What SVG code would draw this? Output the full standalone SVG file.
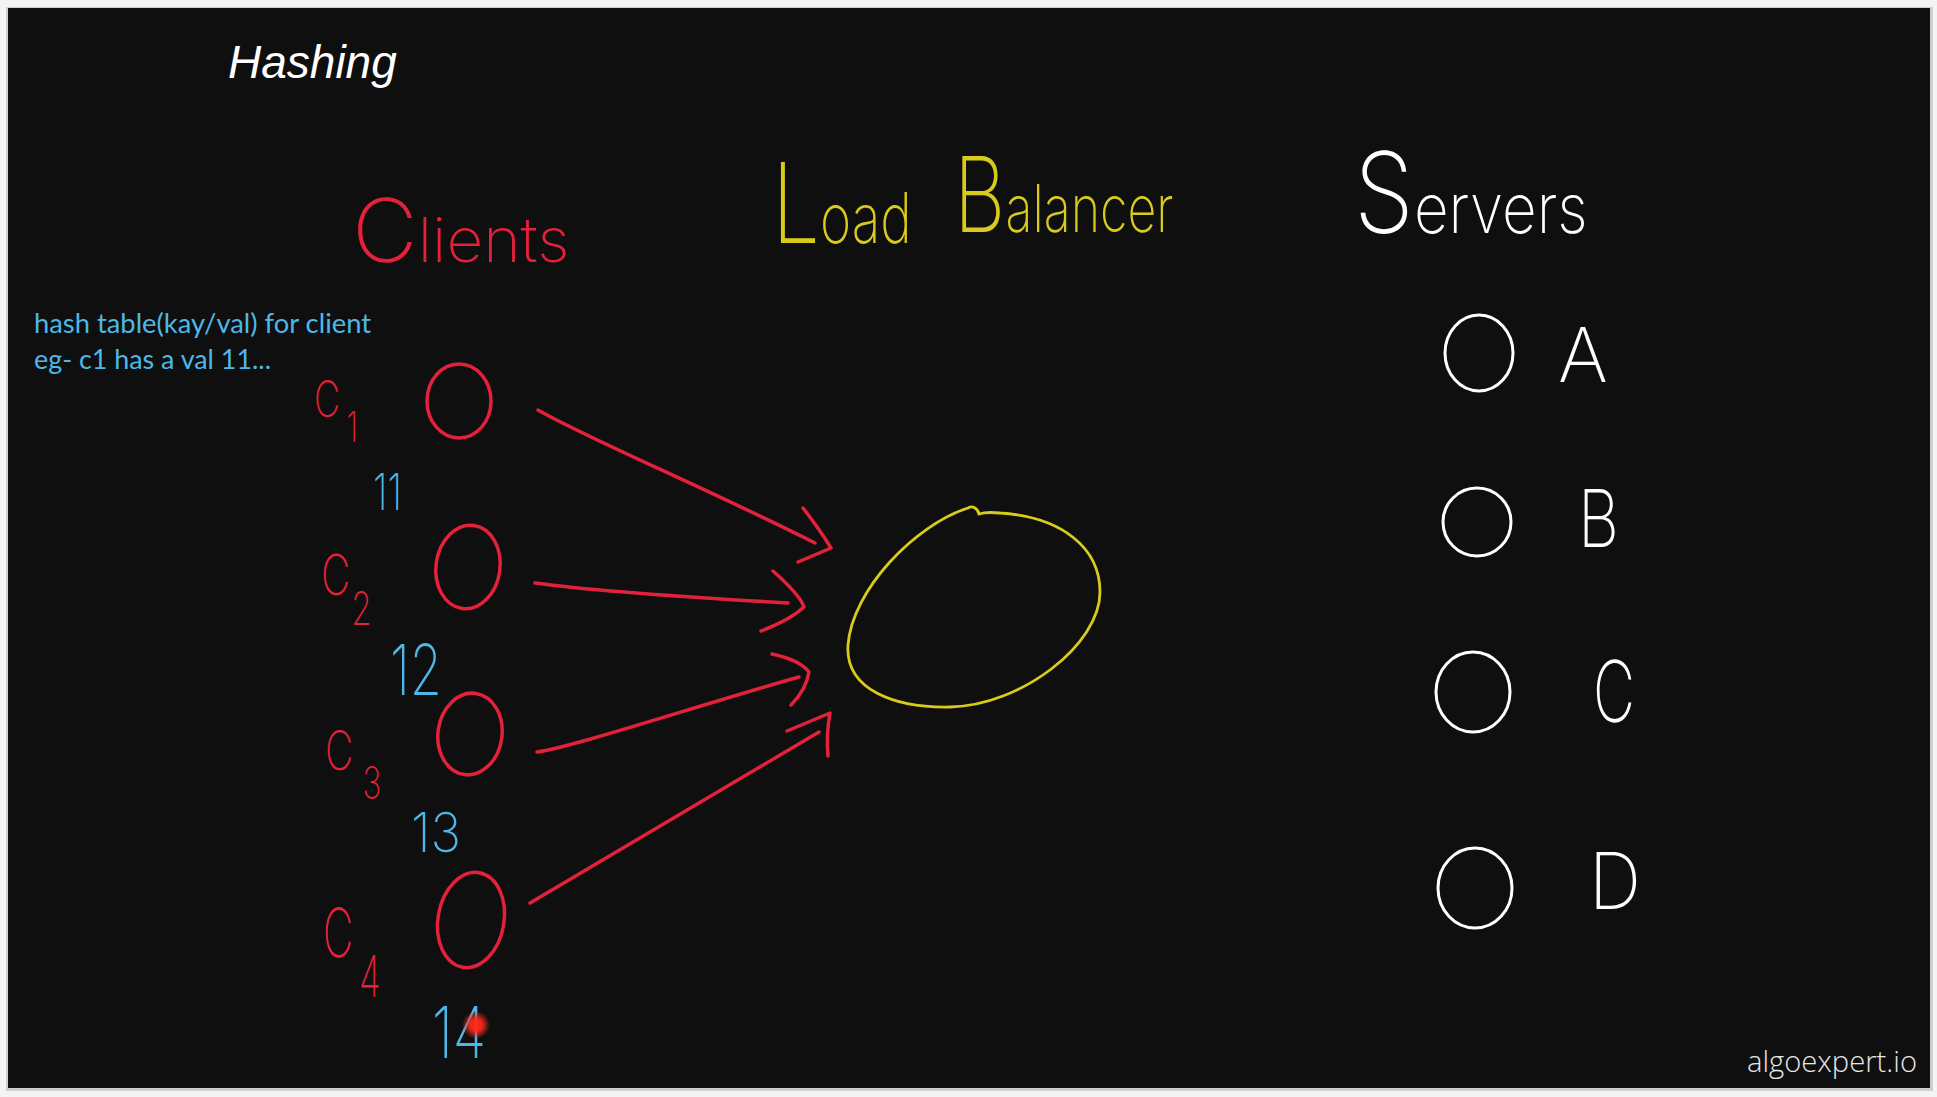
<svg xmlns="http://www.w3.org/2000/svg" width="1937" height="1097" viewBox="0 0 1937 1097">
<defs>
<style>
.hw{font-family:Inter,"Noto Sans","Liberation Sans",sans-serif;font-weight:200}
.red{fill:#e3213b}
.yel{fill:#d8cb1c}
.wht{fill:#ffffff}
.blu{fill:#4db8e8}
.rs{fill:none;stroke:#e3213b;stroke-width:3.5;stroke-linecap:round;stroke-linejoin:round}
.ys{fill:none;stroke:#d8cb1c;stroke-width:2.8;stroke-linecap:round}
.ws{fill:none;stroke:#ffffff;stroke-width:3;stroke-linecap:round}
</style>
<radialGradient id="laser">
<stop offset="0" stop-color="#ff2a1a"/>
<stop offset="0.45" stop-color="#ff2a1a" stop-opacity="0.9"/>
<stop offset="1" stop-color="#ff2a1a" stop-opacity="0"/>
</radialGradient>
</defs>
<rect x="0" y="0" width="1937" height="1097" fill="#f4f4f4"/>
<rect x="6" y="7" width="1927" height="1084" fill="#cfcfcf"/>
<rect x="8" y="8" width="1922" height="1080" fill="#0f0f0f"/>

<text x="228" y="78" font-family="Liberation Sans,Arial,sans-serif" font-style="italic" font-size="46" fill="#ffffff">Hashing</text>

<g id="note" font-family="Lato,'Liberation Sans',sans-serif" font-size="27" class="blu">
<text x="34" y="333" textLength="337" lengthAdjust="spacingAndGlyphs">hash table(kay/val) for client</text>
<text x="34" y="369" textLength="237" lengthAdjust="spacingAndGlyphs">eg- c1 has a val 11...</text>
</g>

<g id="headers" class="hw">
<text class="red" transform="translate(352 262) scale(1.03 1)"><tspan font-size="88">C</tspan><tspan font-size="62">lients</tspan></text>
<text class="yel" transform="translate(772 243) scale(0.76 1)"><tspan font-size="112">L</tspan><tspan font-size="70">oad</tspan></text>
<text class="yel" transform="translate(954 232) scale(0.76 1)"><tspan font-size="105">B</tspan><tspan font-size="66">alancer</tspan></text>
<text class="wht" transform="translate(1354 233) scale(0.86 1)"><tspan font-size="112">S</tspan><tspan font-size="70">ervers</tspan></text>
</g>

<g id="client-c1">
<ellipse class="rs" cx="459" cy="401" rx="32" ry="37"/>
<text class="hw red" transform="translate(314 417) scale(0.72 1)" font-size="50">C<tspan x="45" y="25" font-size="42">1</tspan></text>
<text class="hw blu" x="373" y="510" font-size="50" textLength="29" lengthAdjust="spacingAndGlyphs">11</text>
</g>
<g id="client-c2">
<ellipse class="rs" cx="468" cy="567" rx="32" ry="42" transform="rotate(8 468 567)"/>
<text class="hw red" transform="translate(321 595) scale(0.72 1)" font-size="56">C<tspan x="42" y="30" font-size="46">2</tspan></text>
<text class="hw blu" x="390" y="695" font-size="70" textLength="52" lengthAdjust="spacingAndGlyphs">12</text>
</g>
<g id="client-c3">
<ellipse class="rs" cx="470" cy="734" rx="32" ry="41" transform="rotate(8 470 734)"/>
<text class="hw red" transform="translate(325 770) scale(0.72 1)" font-size="54">C<tspan x="52" y="28" font-size="44">3</tspan></text>
<text class="hw blu" x="411" y="852" font-size="55" textLength="50" lengthAdjust="spacingAndGlyphs">13</text>
</g>
<g id="client-c4">
<ellipse class="rs" cx="471" cy="920" rx="33" ry="48" transform="rotate(10 471 920)"/>
<text class="hw red" transform="translate(323 957) scale(0.62 1)" font-size="68">C<tspan x="58" y="40" font-size="57">4</tspan></text>
<text class="hw blu" x="432" y="1058" font-size="72" textLength="54" lengthAdjust="spacingAndGlyphs">14</text>
</g>

<g id="load-balancer">
<path class="ys" d="M968 508 C 915 525, 852 590, 848 645 C 845 690, 895 708, 950 707 C 1020 706, 1100 645, 1100 592 C 1100 548, 1062 517, 1000 513 C 990 512, 982 513, 979 514 C 978 509, 973 505, 968 508 Z"/>
</g>

<g id="server-a">
<ellipse class="ws" cx="1479" cy="353" rx="34" ry="38"/>
<text class="hw wht" x="1558" y="382" font-size="76">A</text>
</g>
<g id="server-b">
<ellipse class="ws" cx="1477" cy="522" rx="34" ry="34"/>
<text class="hw wht" x="1578" y="547" font-size="80" textLength="41" lengthAdjust="spacingAndGlyphs">B</text>
</g>
<g id="server-c">
<ellipse class="ws" cx="1473" cy="692" rx="37" ry="40"/>
<text class="hw wht" x="1593" y="722" font-size="85" textLength="42" lengthAdjust="spacingAndGlyphs">C</text>
</g>
<g id="server-d">
<ellipse class="ws" cx="1475" cy="888" rx="37" ry="40"/>
<text class="hw wht" x="1589" y="909" font-size="78" textLength="52" lengthAdjust="spacingAndGlyphs">D</text>
</g>

<g id="connectors">
<path class="rs" d="M538 410 C 590 440, 700 485, 815 543"/>
<path class="rs" d="M803 508 Q 820 530, 831 548 L 798 562"/>
<path class="rs" d="M535 583 C 600 592, 700 598, 788 603"/>
<path class="rs" d="M773 571 Q 800 595, 804 607 Q 790 620, 761 631"/>
<path class="rs" d="M537 752 C 570 748, 700 705, 799 677"/>
<path class="rs" d="M772 654 Q 800 660, 809 672 Q 806 690, 791 705"/>
<path class="rs" d="M530 903 L 819 732"/>
<path class="rs" d="M787 731 L 830 713 Q 826 735, 828 756"/>
</g>

<circle cx="476" cy="1025" r="14" fill="url(#laser)"/>

<text x="1747" y="1072" font-family="'Open Sans',Lato,'Liberation Sans',sans-serif" font-weight="300" font-size="30" fill="#e6e6e6" textLength="170" lengthAdjust="spacingAndGlyphs">algoexpert.io</text>
</svg>
